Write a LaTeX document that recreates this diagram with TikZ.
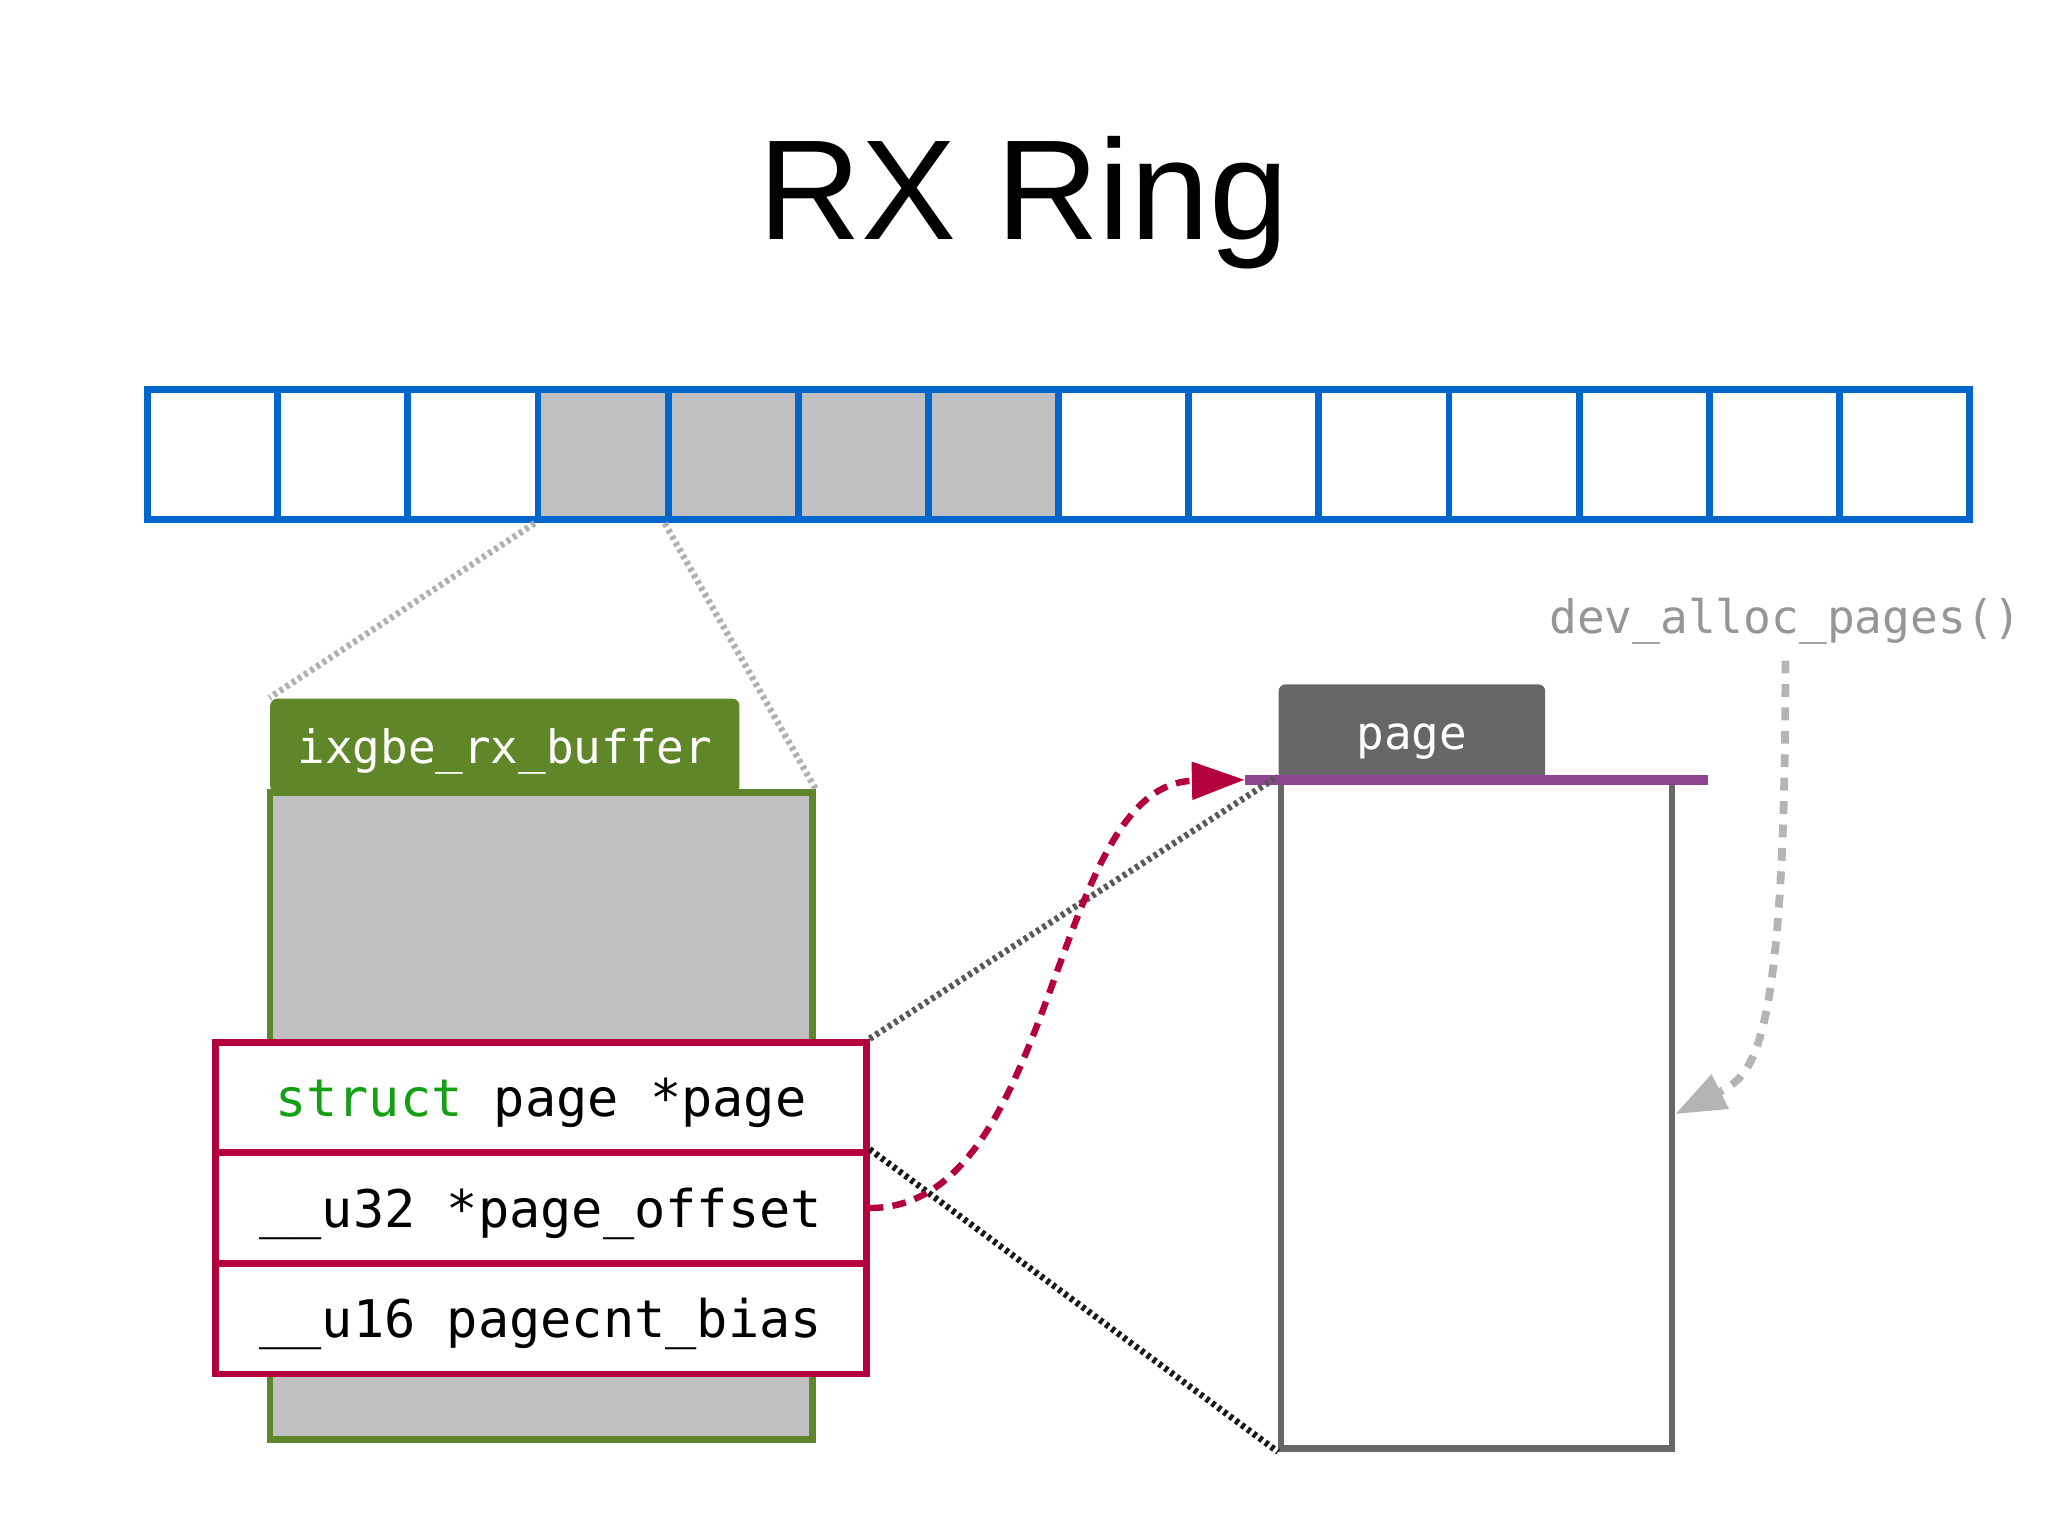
\documentclass[tikz,border=0pt]{standalone}
\usepackage{fontspec}
\setmainfont{Liberation Sans}
\setmonofont{DejaVu Sans Mono}
\usetikzlibrary{arrows.meta}
\definecolor{ringblue}{RGB}{0,102,204}
\definecolor{cellgray}{RGB}{192,191,193}
\definecolor{bufgreen}{RGB}{95,135,41}
\definecolor{crimson}{RGB}{181,0,62}
\definecolor{kwgreen}{RGB}{20,160,20}
\definecolor{pagegray}{RGB}{103,102,104}
\definecolor{pagepurple}{RGB}{142,68,144}
\definecolor{dotgray}{RGB}{176,176,176}
\definecolor{funcgray}{RGB}{150,150,150}
\definecolor{arrowgray}{RGB}{180,180,182}
\begin{document}
\begin{tikzpicture}[x=0.01cm,y=-0.01cm,
  cell/.style={draw=ringblue, line width=1.5pt, fill=white, minimum width=0.996cm, minimum height=1cm, inner sep=0pt},
  busy/.style={cell, fill=cellgray},
  graydot/.style={draw=dotgray, line width=1.4pt, dash pattern=on 0.8pt off 0.8pt},
  blackdot/.style={line width=1.4pt, dash pattern=on 0.8pt off 0.8pt},
  row/.style={draw=crimson, line width=1.5pt, fill=white, minimum width=4.98cm, minimum height=0.847cm, inner sep=0pt, font=\fontsize{11.3}{13}\selectfont\ttfamily, text height=10.7pt, text depth=2.3pt},
  tabbox/.style={inner sep=0pt, rounded corners=1.5pt, text=white, font=\fontsize{10}{12}\selectfont\ttfamily, text height=9.5pt, text depth=2pt}
]
\useasboundingbox (0,0) rectangle (1568,1176);

% title
\node[font=\fontsize{31}{37}\selectfont, anchor=base] (title) at (784,183) {RX Ring};

% ring
\foreach \i/\s in {1/cell,2/cell,3/cell,4/busy,5/busy,6/busy,7/busy,8/cell,9/cell,10/cell,11/cell,12/cell,13/cell,14/cell}{
  \pgfmathsetmacro\cx{113+99.643*(\i-0.5)}
  \node[\s] (c\i) at (\cx,348) {};
}

% buffer
\node[tabbox, fill=bufgreen, minimum width=3.59cm, minimum height=0.72cm] (buftab) at (386.5,571) {ixgbe\_rx\_buffer};
\node[draw=bufgreen, line width=1.4pt, fill=cellgray, minimum width=4.15cm, minimum height=4.95cm, inner sep=0pt] (buf) at (414.5,854.5) {};

\draw[graydot] (c4.south west) -- (buftab.north west);
\draw[graydot] (c5.south west) -- (buf.north east);

% struct rows
\node[row] (r1) at (414,840.3) {\textcolor{kwgreen}{struct} page *page};
\node[row] (r2) at (414,924.9) {\_\_u32 *page\_offset};
\node[row] (r3) at (414,1009.6) {\_\_u16 pagecnt\_bias};

% page
\node[draw=pagegray, line width=1.4pt, fill=white, minimum width=2.99cm, minimum height=5.12cm, inner sep=0pt] (pbody) at (1130.5,853) {};
\node[tabbox, fill=pagegray, minimum width=2.04cm, minimum height=0.73cm] (ptab) at (1081,560.5) {page};
\coordinate (pl) at (953,597);
\coordinate (pr) at (1308,597);
\draw[pagepurple, line width=2.1pt] (pl) -- (pr);

% dotted links
\draw[blackdot, draw=black!65] (r1.north east) -- (pbody.north west);
\draw[blackdot, draw=black!90] (r2.north east) -- (pbody.south west);

% red arrow
\draw[crimson, line width=1.4pt, dash pattern=on 3pt off 2pt, -{Triangle[length=11.5pt,width=8pt]}]
  (r2.east) .. controls +(145,0) and +(-150,3) .. (pl);

% alloc
\node[font=\fontsize{10.05}{12}\selectfont\ttfamily, text=funcgray, anchor=base] (alloc) at (1367,485) {dev\_alloc\_pages()};
\draw[arrowgray, line width=1.7pt, dash pattern=on 2.8pt off 2.3pt, -{Triangle[length=11pt,width=8pt]}]
  (alloc.south) .. controls +(0,300) and +(60,-30) .. (pbody.east);
\end{tikzpicture}
\end{document}
